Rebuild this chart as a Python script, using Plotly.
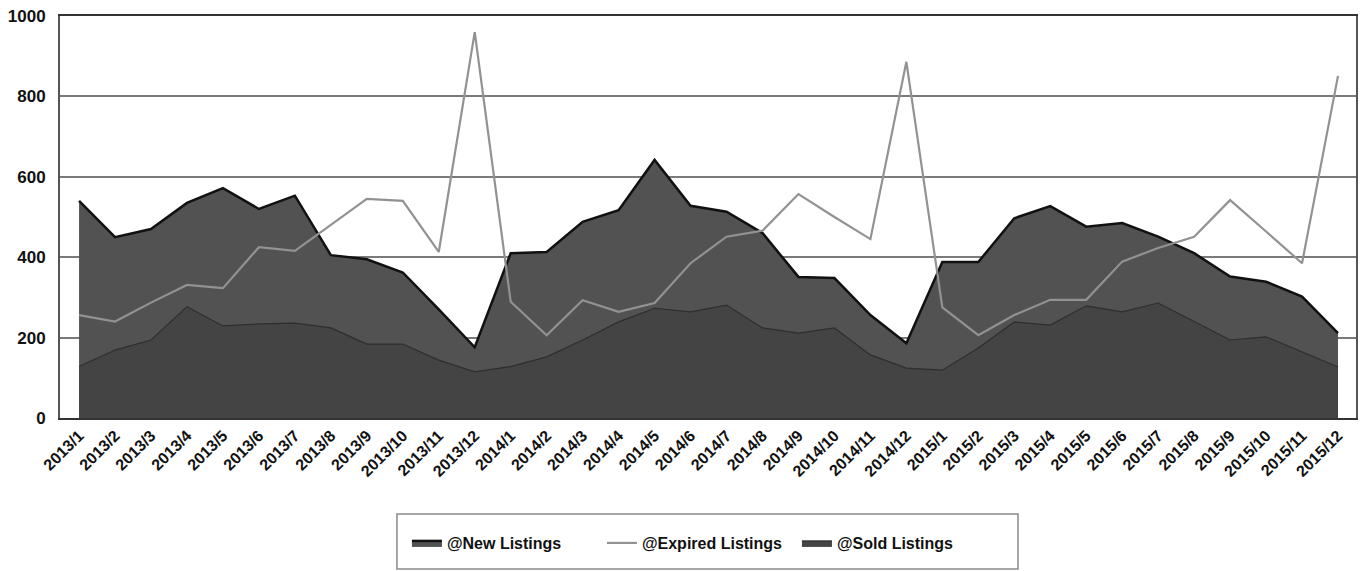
import plotly.graph_objects as go

months = [f"{y}/{m}" for y in (2013, 2014, 2015) for m in range(1, 13)]

new_listings = [540, 450, 470, 535, 572, 520, 553, 405, 395, 362, 270, 176,
                410, 413, 488, 517, 642, 528, 513, 460, 351, 348, 256, 186,
                388, 388, 497, 527, 476, 485, 451, 410, 352, 339, 302, 211]

expired_listings = [256, 240, 287, 331, 323, 425, 416, 480, 545, 540, 413, 960,
                    289, 206, 293, 264, 286, 385, 451, 466, 557, 500, 445, 886,
                    275, 206, 256, 294, 294, 389, 423, 451, 542, 464, 385, 851]

sold_listings = [128, 169, 194, 277, 229, 234, 236, 224, 184, 184, 144, 115,
                 128, 152, 194, 239, 273, 264, 281, 224, 211, 224, 157, 124,
                 119, 174, 239, 231, 279, 264, 286, 239, 194, 202, 164, 127]

y_ticks = [0, 200, 400, 600, 800, 1000]

fig = go.Figure()
fig.add_trace(go.Scatter(
    x=months, y=new_listings, name="@New Listings", mode="lines",
    fill="tozeroy", fillcolor="#525252",
    line=dict(color="#111111", width=2.5), legendrank=1))
fig.add_trace(go.Scatter(
    x=months, y=sold_listings, name="@Sold Listings", mode="lines",
    fill="tozeroy", fillcolor="#444444",
    line=dict(color="#2e2e2e", width=1.2), legendrank=3))
fig.add_trace(go.Scatter(
    x=months, y=expired_listings, name="@Expired Listings", mode="lines",
    line=dict(color="#929292", width=2.2), legendrank=2))

fig.update_layout(
    width=1365, height=571,
    margin=dict(l=60, r=9, t=16, b=153, autoexpand=False),
    paper_bgcolor="white", plot_bgcolor="white",
    font=dict(family="Liberation Sans, Arial, sans-serif", color="#111111"),
    showlegend=True,
    legend=dict(orientation="h", x=0.2677, xanchor="left", y=-0.311, yanchor="middle",
                borderwidth=0, bgcolor="rgba(0,0,0,0)",
                font=dict(size=16, weight="bold"), entrywidth=150,
                traceorder="normal"),
    shapes=[dict(type="rect", xref="paper", yref="paper",
                 x0=0.2600, x1=0.7392, y0=-0.3756, y1=-0.2388,
                 line=dict(color="#8a8a8a", width=1.5), layer="below")],
)
fig.update_xaxes(
    type="category", range=[-0.53, 35.5], tickangle=-45, automargin=False,
    tickfont=dict(size=16, weight="bold"),
    showgrid=False, showline=True, linecolor="#333333", linewidth=2,
    mirror=True, ticks="",
)
fig.update_yaxes(
    range=[0, 1000], tickvals=y_ticks, ticks="", automargin=False,
    tickfont=dict(size=17, weight="bold"), ticklabelstandoff=9,
    showgrid=True, gridcolor="#7a7a7a", gridwidth=1.5,
    showline=True, linecolor="#555555", linewidth=2, mirror=True,
    zeroline=False,
)

fig.write_html("out.html", config={"displayModeBar": False},
               post_script="document.body.style.margin='0';document.body.style.overflow='hidden';")
